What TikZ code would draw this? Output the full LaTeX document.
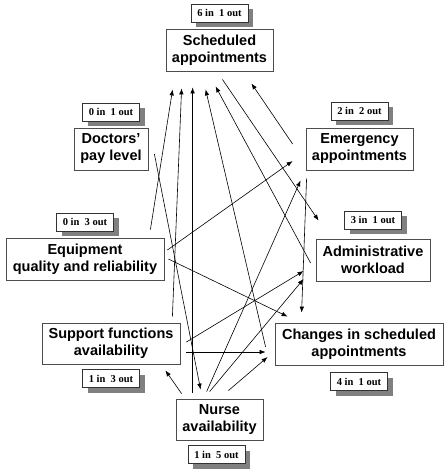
\documentclass[tikz,border=0pt]{standalone}
\usepackage{fontspec}
\setmainfont{Liberation Sans}
\newfontfamily\countfont{Liberation Serif}
\usetikzlibrary{arrows.meta}
\usetikzlibrary{calc}
\usetikzlibrary{positioning}
\usetikzlibrary{shadows}

\begin{document}
\begin{tikzpicture}[x=1pt,y=-1pt,
	factor/.style={draw=black!70,line width=0.8pt,fill=white,align=center,inner sep=0pt,minimum height=42pt,font=\bfseries\fontsize{14.5}{17}\selectfont},
	count/.style={draw=black!80,line width=0.7pt,fill=white,inner sep=0pt,minimum width=57pt,minimum height=18pt,font=\countfont\bfseries\fontsize{10.5}{11}\selectfont,drop shadow={shadow xshift=5pt,shadow yshift=-5pt,fill=black!50,opacity=1}},
	link/.style={-{Latex[length=6pt,width=4.5pt]},line width=0.6pt}]
\useasboundingbox (0,0) rectangle (447,475);
\node[factor,minimum width=107pt] (sched) at (219.5,50) {Scheduled\\appointments};
\node[factor,minimum width=74pt] (doctors) at (111,149) {Doctors'\\pay level};
\node[factor,minimum width=107pt] (emerg) at (359.5,149) {Emergency\\appointments};
\node[factor,minimum width=158pt] (equip) at (85,259) {Equipment\\quality and reliability};
\node[factor,minimum width=114pt] (admin) at (373,260) {Administrative\\workload};
\node[factor,minimum width=138pt,minimum height=41pt] (support) at (111,343.5) {Support functions\\availability};
\node[factor,minimum width=168pt] (changes) at (359,344) {Changes in scheduled\\appointments};
\node[factor,minimum width=87pt,minimum height=41pt] (nurse) at (219.5,419.5) {Nurse\\availability};
	\node[count,above=6pt of sched] (schedcount) {6 in~ 1 out};
	\node[count,above=6pt of doctors] (doctorscount) {0 in~ 1 out};
	\node[count,above=7pt of emerg] (emergcount) {2 in~ 2 out};
	\node[count,above=6pt of equip] (equipcount) {0 in~ 3 out};
	\node[count,above=9pt of admin] (admincount) {3 in~ 1 out};
	\node[count,below=5pt of support] (supportcount) {1 in~ 3 out};
	\node[count,below=7pt of changes] (changescount) {4 in~ 1 out};
	\node[count,below=5pt of nurse,xshift=-3pt] (nursecount) {1 in~ 5 out};
\draw[link] ($(equip.north east)+(-14,-8)$) -- ($(sched.south west)+(7,18)$);
\draw[link] ($(support.north east)+(-8,-6)$) -- ($(sched.south west)+(16,17)$);
\draw[link] ($(nurse.north west)+(17,-6)$) -- ($(sched.south west)+(27,16)$);
\draw[link] ($(changes.west)+(-9,3)$) -- ($(sched.south west)+(40,18)$);
\draw[link] ($(admin.west)+(-5,3)$) -- ($(sched.south west)+(50,15)$);
\draw[link] ($(emerg.west)+(-13,-5)$) -- ($(sched.south east)+(-22,12)$);
\draw[link] ($(sched.south east)+(-51,8)$) -- ($(admin.north west)+(3,-18)$);
\draw[link] ($(equip.east)+(3,-9)$) -- ($(emerg.west)+(-13,12)$);
\draw[link] ($(nurse.north west)+(31,-7)$) -- ($(emerg.south west)+(-5,10)$);
\draw[link] ($(support.east)+(6,-1.5)$) -- ($(admin.west)+(-12,11)$);
\draw[link] ($(nurse.north west)+(34,-7)$) -- ($(admin.west)+(-12,19)$);
\draw[link] ($(equip.east)+(4,0)$) -- ($(changes.north west)+(13,-6)$);
\draw[link] ($(emerg.south west)+(1,8)$) -- ($(changes.north west)+(27,-10)$);
\draw[link] ($(support.east)+(6,8.5)$) -- ($(changes.west)+(-9,8)$);
\draw[link] ($(nurse.north east)+(-35,-8)$) -- ($(changes.west)+(-7,13)$);
\draw[link] ($(nurse.north west)+(6,-5)$) -- ($(support.south east)+(-15,6)$);
\draw[link] ($(doctors.east)+(6,5)$) -- ($(nurse.north west)+(25,-9)$);
\end{tikzpicture}
\end{document}
